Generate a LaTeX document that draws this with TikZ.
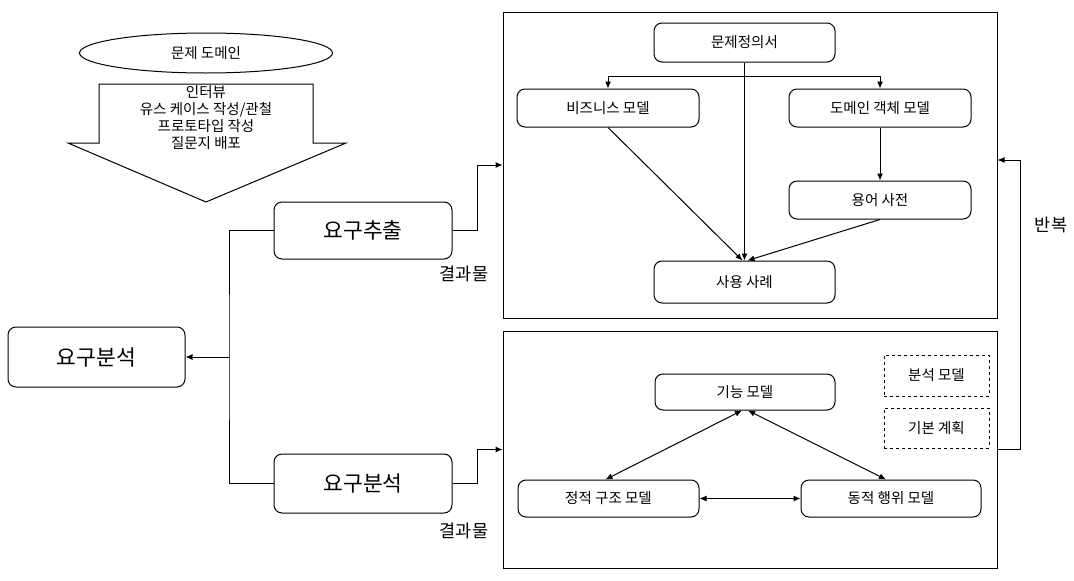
\documentclass[tikz,border=0pt]{standalone}
\usepackage{fontspec}
\setmainfont{Noto Sans CJK KR}
\usetikzlibrary{arrows.meta,shapes.geometric}
\tikzset{
  sm/.style={font=\fontsize{14.5}{17}\selectfont},
  lg/.style={font=\fontsize{21.5}{24}\selectfont},
  lbl/.style={font=\fontsize{17.5}{20}\selectfont},
  rbox/.style={draw, line width=1pt, rounded corners=8pt, inner sep=0pt, align=center},
  dbox/.style={draw, line width=0.8pt, dashed, inner sep=0pt, align=center, sm},
  frame/.style={draw, line width=1pt, inner sep=0pt},
  ln/.style={line width=1pt},
  arr/.style={line width=1pt, -{Latex[length=7pt,width=6pt]}},
  darr/.style={line width=1pt, {Latex[length=7pt,width=6pt]}-{Latex[length=7pt,width=6pt]}},
}
\begin{document}
\begin{tikzpicture}[x=1pt,y=-1pt]
\useasboundingbox (0,0) rectangle (1074,581);

% left part
\node[draw, ellipse, line width=1pt, minimum width=253, minimum height=40, inner sep=0pt, sm] (dom) at (206,53) {문제 도메인};
\draw[line width=1pt] (99,84) -- (313,84) -- (313,143) -- (346,143) -- (206,202) -- (68,143) -- (99,143) -- cycle;
\node[sm, align=center] (act) at (206,118) {인터뷰\\유스 케이스 작성/관철\\프로토타입 작성\\질문지 배포};

\node[rbox, lg, minimum width=178, minimum height=57] (yc) at (363,230.5) {요구추출};
\node[rbox, lg, minimum width=177, minimum height=60] (yl) at (96.5,357) {요구분석};
\node[rbox, lg, minimum width=178, minimum height=59] (ya) at (363,483.5) {요구분석};

\node[lbl] (r1) at (464,274) {결과물};
\node[lbl] (r2) at (464,531) {결과물};
\node[lbl] (rep) at (1051,225) {반복};

% frames
\node[frame, minimum width=494, minimum height=306] (box1) at (750,165) {};
\node[frame, minimum width=494, minimum height=237] (box2) at (750,449.5) {};

% box1 content
\node[rbox, sm, minimum width=181, minimum height=39] (mj) at (744.5,42.5) {문제정의서};
\node[rbox, sm, minimum width=182, minimum height=38] (bm) at (608,108) {비즈니스 모델};
\node[rbox, sm, minimum width=182, minimum height=38] (dm) at (880,108) {도메인 객체 모델};
\node[rbox, sm, minimum width=182, minimum height=38] (ys) at (880,200) {용어 사전};
\node[rbox, sm, minimum width=181, minimum height=42] (sa) at (744.5,282) {사용 사례};

% box2 content
\node[rbox, sm, minimum width=180, minimum height=36] (fm) at (745,392) {기능 모델};
\node[rbox, sm, minimum width=181, minimum height=37] (st) at (608.5,498.5) {정적 구조 모델};
\node[rbox, sm, minimum width=180, minimum height=37] (dy) at (891,498.5) {동적 행위 모델};
\node[dbox, minimum width=105, minimum height=41] (an) at (936.5,375.5) {분석 모델};
\node[dbox, minimum width=105, minimum height=40] (bp) at (936.5,428) {기본 계획};

% connectors left
\coordinate (j) at (229,357);
\draw[ln] (yc.west) -| (j) |- (ya.west);
\draw[arr] (j) -- (yl.east);
\draw[arr] (yc.east) -- ++(25,0) |- (box1.west);
\draw[arr] (ya.east) -- ++(25,0) |- (box2.west);
\draw[arr] (box2.east) -- ++(23,0) |- ([yshift=5pt]box1.east);

% box1 connectors
\coordinate (split) at (744.5,76);
\draw[arr] (mj.south) -- (sa.north);
\draw[arr] (split) -| (bm.north);
\draw[arr] (split) -| (dm.north);
\draw[arr] (bm.south) -- ([xshift=-2pt]sa.north);
\draw[arr] (dm.south) -- (ys.north);
\draw[arr] (ys.south) -- ([xshift=3pt]sa.north);

% box2 connectors
\draw[darr] ([xshift=-3pt]fm.south) -- ([xshift=-3pt]st.north);
\draw[darr] ([xshift=3pt]fm.south) -- ([xshift=-5pt]dy.north);
\draw[darr] (st.east) -- (dy.west);
\end{tikzpicture}
\end{document}
